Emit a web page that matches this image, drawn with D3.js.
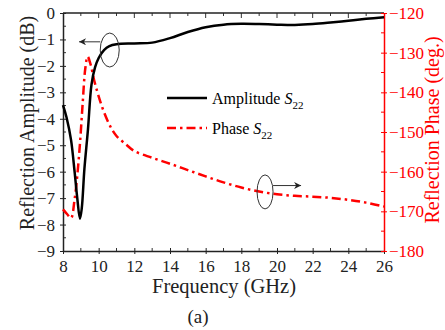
<!DOCTYPE html>
<html lang="en">
<head>
    <meta charset="UTF-8">
    <title>Reflection S22</title>
    <style>
        body { margin: 0; background: #fff; }
        text { font-family: "Liberation Serif", "Times New Roman", serif; }
    </style>
</head>
<body>
<script src="https://cdn.jsdelivr.net/npm/d3@7"></script>
<script>
    // amplitude S22 (dB) vs frequency (GHz)
    let ampFreq = [8.0, 8.2, 8.45, 8.65, 8.8, 8.95, 9.05, 9.2, 9.4, 9.6, 9.8, 10.0, 10.3, 10.6, 11.0,
        12.0, 13.0, 14.0, 15.0, 16.0, 17.0, 18.0, 19.0, 20.0, 21.0, 22.0, 23.0, 24.0, 25.0, 26.0];
    let ampDb = [-3.48, -3.95, -4.8, -6.0, -7.0, -7.78, -7.4, -5.9, -4.4, -2.7, -2.05, -1.7, -1.4, -1.25, -1.18,
        -1.15, -1.12, -0.95, -0.72, -0.54, -0.44, -0.41, -0.42, -0.44, -0.45, -0.42, -0.36, -0.29, -0.22, -0.16];
    // phase S22 (deg) vs frequency (GHz)
    let phaseFreq = [8.0, 8.25, 8.45, 8.65, 8.8, 8.95, 9.1, 9.25, 9.38, 9.55, 9.75, 10.0, 10.3, 10.7, 11.0, 11.5,
        12.0, 13.0, 14.0, 15.0, 16.0, 17.0, 18.0, 19.0, 20.0, 21.0, 22.0, 23.0, 24.0, 25.0, 26.0];
    let phaseDeg = [-169.5, -170.8, -171.7, -167, -161, -153, -143, -134, -131, -133, -137, -141, -145, -149, -151, -153,
        -154.8, -156.5, -158, -159.6, -161.2, -162.7, -164, -165, -165.7, -166.1, -166.3, -166.6, -167.1, -167.8, -168.8];

    let xTicks = [8, 10, 12, 14, 16, 18, 20, 22, 24, 26];
    let yLeftTicks = [0, -1, -2, -3, -4, -5, -6, -7, -8, -9];
    let yRightTicks = [-120, -130, -140, -150, -160, -170, -180];

    let width = 445;
    let height = 330;
    let padding = {top: 13, right: 61, bottom: 79, left: 63};
    let red = "#ff0000";

    let svg = d3.select("body").append("svg")
        .attr("width", width)
        .attr("height", height);

    let x = d3.scaleLinear().domain([8, 26]).range([padding.left, width - padding.right]);
    let yL = d3.scaleLinear().domain([-9, 0]).range([height - padding.bottom, padding.top]);
    let yR = d3.scaleLinear().domain([-180, -120]).range([height - padding.bottom, padding.top]);

    let x0 = padding.left, x1 = width - padding.right;
    let y0 = height - padding.bottom, y1 = padding.top;

    // minor ticks first (inward), then major axes
    let minorX = d3.range(9, 26, 2);
    svg.append("g").selectAll("line").data(minorX).enter().append("line")
        .attr("x1", d => x(d)).attr("x2", d => x(d))
        .attr("y1", y0).attr("y2", y0 - 3)
        .attr("stroke", "#333").attr("stroke-width", 1);
    svg.append("g").selectAll("line").data(d3.range(9, 26, 1)).enter().append("line")
        .attr("x1", d => x(d)).attr("x2", d => x(d))
        .attr("y1", y1).attr("y2", d => y1 + (d % 2 === 0 ? 5 : 3))
        .attr("stroke", "#333").attr("stroke-width", 1);
    svg.append("g").selectAll("line").data(d3.range(-8.5, 0, 1)).enter().append("line")
        .attr("x1", x0).attr("x2", x0 + 3)
        .attr("y1", d => yL(d)).attr("y2", d => yL(d))
        .attr("stroke", "#333").attr("stroke-width", 1);
    svg.append("g").selectAll("line").data(d3.range(-175, -120, 10)).enter().append("line")
        .attr("x1", x1).attr("x2", x1 - 3)
        .attr("y1", d => yR(d)).attr("y2", d => yR(d))
        .attr("stroke", red).attr("stroke-width", 1);

    // top frame line
    svg.append("line")
        .attr("x1", x0).attr("x2", x1).attr("y1", y1).attr("y2", y1)
        .attr("stroke", "#222").attr("stroke-width", 1.5);

    let bottomAxis = svg.append("g")
        .attr("transform", "translate(0," + y0 + ")")
        .call(d3.axisBottom(x).tickValues(xTicks).tickSize(3).tickSizeOuter(0).tickPadding(6));
    bottomAxis.selectAll("text").attr("font-size", 17).attr("fill", "#222");

    let leftAxis = svg.append("g")
        .attr("transform", "translate(" + x0 + ",0)")
        .call(d3.axisLeft(yL).tickValues(yLeftTicks).tickFormat(d3.format("d")).tickSize(3).tickSizeOuter(0).tickPadding(5));
    leftAxis.selectAll("text").attr("font-size", 17).attr("fill", "#222");

    let rightAxis = svg.append("g")
        .attr("transform", "translate(" + x1 + ",0)")
        .call(d3.axisRight(yR).tickValues(yRightTicks).tickSize(3).tickSizeOuter(0).tickPadding(2));
    rightAxis.selectAll("text").attr("font-size", 17).attr("fill", red);
    rightAxis.selectAll("line").attr("stroke", red);
    rightAxis.select(".domain").attr("stroke", red);

    // major ticks cross the axis line
    bottomAxis.selectAll(".tick line").attr("y1", -3);
    leftAxis.selectAll(".tick line").attr("x1", 3);
    rightAxis.selectAll(".tick line").attr("x1", -3);

    [bottomAxis, leftAxis].forEach(g => {
        g.select(".domain").attr("stroke", "#222").attr("stroke-width", 1.5);
        g.selectAll(".tick line").attr("stroke", "#222");
    });
    rightAxis.select(".domain").attr("stroke-width", 1.5);

    // curves
    let ampLine = d3.line()
        .x((d, i) => x(ampFreq[i]))
        .y(d => yL(d))
        .curve(d3.curveCatmullRom.alpha(0.5));
    let phaseLine = d3.line()
        .x((d, i) => x(phaseFreq[i]))
        .y(d => yR(d))
        .curve(d3.curveCatmullRom.alpha(0.5));

    svg.append("path")
        .datum(phaseDeg)
        .attr("d", phaseLine)
        .attr("fill", "none")
        .attr("stroke", red)
        .attr("stroke-width", 2.5)
        .attr("stroke-dasharray", "9,4,2.5,4");

    svg.append("path")
        .datum(ampDb)
        .attr("d", ampLine)
        .attr("fill", "none")
        .attr("stroke", "#000")
        .attr("stroke-width", 2.5);

    // annotation ellipses + arrows
    svg.append("defs").append("marker")
        .attr("id", "arrow")
        .attr("viewBox", "0 0 10 10")
        .attr("refX", 10).attr("refY", 5)
        .attr("markerWidth", 9).attr("markerHeight", 7)
        .attr("markerUnits", "userSpaceOnUse")
        .attr("orient", "auto")
        .append("path")
        .attr("d", "M0,0 L10,5 L0,10 L3,5 Z")
        .attr("fill", "#222");

    let notes = [
        {cx: x(10.62), cy: yL(-1.4), rx: 9.5, ry: 17, ay: yL(-1.09), ax: x(8.9), from: x(10.62) - 9.5},
        {cx: x(19.33), cy: yR(-165.1), rx: 8, ry: 17, ay: yR(-163.5), ax: x(21.35), from: x(19.33) + 8}
    ];
    notes.forEach(n => {
        svg.append("ellipse")
            .attr("cx", n.cx).attr("cy", n.cy)
            .attr("rx", n.rx).attr("ry", n.ry)
            .attr("fill", "none").attr("stroke", "#333").attr("stroke-width", 1);
        svg.append("line")
            .attr("x1", n.from).attr("x2", n.ax)
            .attr("y1", n.ay).attr("y2", n.ay)
            .attr("stroke", "#333").attr("stroke-width", 1)
            .attr("marker-end", "url(#arrow)");
    });

    // legend
    let legend = [
        {name: "Amplitude ", color: "#000", dash: null, y: 98},
        {name: "Phase ", color: red, dash: "9,4,2.5,4", y: 128}
    ];
    legend.forEach(l => {
        svg.append("line")
            .attr("x1", 167).attr("x2", 207)
            .attr("y1", l.y).attr("y2", l.y)
            .attr("stroke", l.color).attr("stroke-width", 2.5)
            .attr("stroke-dasharray", l.dash);
        let t = svg.append("text")
            .attr("x", 212).attr("y", l.y + 6)
            .attr("font-size", 16).attr("fill", "#000");
        t.append("tspan").text(l.name);
        t.append("tspan").attr("font-style", "italic").text("S");
        t.append("tspan").attr("font-size", 11).attr("dy", 5).text("22");
    });

    // axis titles
    svg.append("text")
        .attr("x", (x0 + x1) / 2 + 0.5).attr("y", 293)
        .attr("text-anchor", "middle")
        .attr("font-size", 20.5).attr("fill", "#222")
        .text("Frequency (GHz)");
    svg.append("text")
        .attr("transform", "translate(34,123) rotate(-90)")
        .attr("text-anchor", "middle")
        .attr("font-size", 20).attr("fill", "#222")
        .text("Reflection Amplitude (dB)");
    svg.append("text")
        .attr("transform", "translate(439,130) rotate(-90)")
        .attr("text-anchor", "middle")
        .attr("font-size", 20).attr("fill", red)
        .text("Reflection Phase (deg.)");
    svg.append("text")
        .attr("x", 198).attr("y", 323)
        .attr("text-anchor", "middle")
        .attr("font-size", 19).attr("fill", "#222")
        .text("(a)");
</script>
</body>
</html>
